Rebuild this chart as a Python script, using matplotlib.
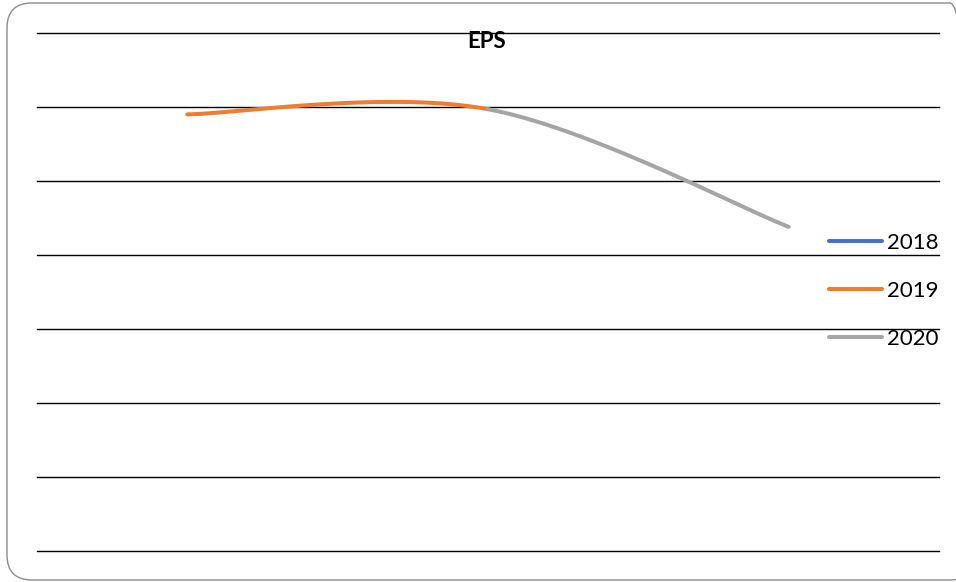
import matplotlib.pyplot as plt
import numpy as np
from matplotlib.lines import Line2D
from matplotlib.patches import FancyBboxPatch

plt.rcParams["font.family"] = ["Lato", "DejaVu Sans"]

years = ["2018", "2019", "2020"]
eps = [5.90, 5.97, 4.38]
colors = ["#4472C4", "#ED7D31", "#A5A5A5"]


def smooth_segment(pts, i, n=80):
    # cubic Bezier between pts[i] and pts[i+1], Catmull-Rom style control points
    p_prev = pts[max(i - 1, 0)]
    p0 = pts[i]
    p1 = pts[i + 1]
    p_next = pts[min(i + 2, len(pts) - 1)]
    c1 = p0 + (p1 - p_prev) / 6.0
    c2 = p1 - (p_next - p0) / 6.0
    t = np.linspace(0, 1, n)[:, None]
    curve = ((1 - t) ** 3) * p0 + 3 * ((1 - t) ** 2) * t * c1 + 3 * (1 - t) * t**2 * c2 + t**3 * p1
    return curve[:, 0], curve[:, 1]


fig = plt.figure(figsize=(9.56, 5.82), dpi=100)
ax = fig.add_axes([37 / 956, 1 - 551 / 582, 902 / 956, 518 / 582])

pts = np.column_stack([np.arange(len(eps)), eps]).astype(float)

handles = []
for k, (year, color) in enumerate(zip(years, colors)):
    if k == 0:
        # first point has no incoming segment
        ax.plot([pts[0, 0]], [pts[0, 1]], color=color, linewidth=2.9)
    else:
        xs, ys = smooth_segment(pts, k - 1)
        ax.plot(xs, ys, color=color, linewidth=2.9, solid_capstyle="round")
    handles.append(Line2D([], [], color=color, linewidth=2.9, solid_capstyle="round", label=year))

ax.set_xlim(-0.5, len(eps) - 0.5)
ax.set_ylim(0, 7)
ax.set_yticks(np.arange(0, 8))
ax.set_xticks([])
ax.yaxis.grid(True, color="black", linewidth=1.0)
for gl in ax.get_ygridlines():
    gl.set_clip_on(False)
ax.set_axisbelow(True)
ax.tick_params(left=False, labelleft=False, bottom=False, labelbottom=False)
for spine in ax.spines.values():
    spine.set_visible(False)

fig.text(487 / 956, 1 - 42 / 582, "EPS", ha="center", va="center",
         fontsize=16, fontweight="bold")

fig.legend(handles=handles, loc="center left", bbox_to_anchor=(829 / 956, 1 - 291 / 582),
           frameon=False, fontsize=16, handlelength=2.4, handletextpad=0.2,
           labelspacing=1.25, borderpad=0, borderaxespad=0)

frame = FancyBboxPatch((0.07, 0.02), 9.68, 5.77, boxstyle="round,pad=0,rounding_size=0.25",
                       transform=fig.dpi_scale_trans, facecolor="none",
                       edgecolor="#8c8c8c", linewidth=1.0, clip_on=False)
fig.patches.append(frame)

fig.savefig("out.png", dpi=100)
plt.close(fig)
